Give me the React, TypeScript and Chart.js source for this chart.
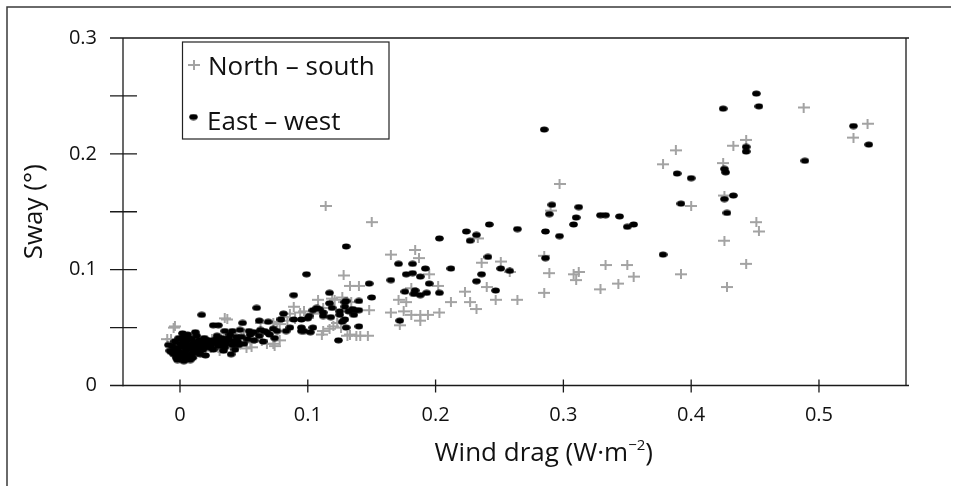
import React, { useEffect, useRef } from 'react';
import { Chart, registerables } from 'chart.js';

Chart.register(...registerables);

// ---------- data ----------
const seriesNames = ['North – south', 'East – west'];
const xTitle = 'Wind drag (W·m';
const xTitleSup = '−2';
const yTitle = 'Sway (°)';
const xTicks = [0, 0.1, 0.2, 0.3, 0.4, 0.5];
const yTicks = [0, 0.05, 0.1, 0.15, 0.2, 0.25, 0.3];
const xRange = [-0.0446, 0.5681];
const yRange = [0, 0.3];

// North – south (grey crosses): [wind drag, sway]
const nsPoints: [number, number][] = [
  [0.488, 0.240], [0.538, 0.226], [0.527, 0.214], [0.443, 0.212], [0.433, 0.207], [0.425, 0.192],
  [0.426, 0.164], [0.451, 0.141], [0.453, 0.133], [0.426, 0.125], [0.443, 0.105], [0.428, 0.085],
  [0.388, 0.203], [0.378, 0.191], [0.297, 0.174], [0.400, 0.155], [0.290, 0.151], [0.285, 0.112],
  [0.289, 0.097], [0.308, 0.096], [0.312, 0.098], [0.310, 0.091], [0.333, 0.104], [0.350, 0.104],
  [0.355, 0.094], [0.343, 0.088], [0.329, 0.083], [0.285, 0.080], [0.392, 0.096],
  [0.114, 0.155], [0.150, 0.141], [0.165, 0.113], [0.184, 0.117], [0.187, 0.110], [0.233, 0.127],
  [0.236, 0.106], [0.251, 0.107], [0.258, 0.098], [0.195, 0.096], [0.128, 0.095], [0.202, 0.086],
  [0.133, 0.086], [0.140, 0.086], [0.240, 0.085], [0.223, 0.081], [0.181, 0.084], [0.171, 0.074],
  [0.177, 0.072], [0.212, 0.072], [0.227, 0.072], [0.247, 0.074], [0.264, 0.074], [0.232, 0.066],
  [0.165, 0.063], [0.175, 0.064], [0.181, 0.061], [0.188, 0.061], [0.194, 0.061], [0.203, 0.063],
  [0.188, 0.056], [0.172, 0.052], [0.148, 0.065], [0.131, 0.043], [0.141, 0.043], [0.147, 0.043],
  [0.108, 0.074], [0.119, 0.075], [0.128, 0.072], [0.134, 0.072], [0.121, 0.074], [0.127, 0.076],
  [0.089, 0.068], [0.097, 0.064], [0.035, 0.058], [-0.004, 0.051], [0.063, 0.054], [0.076, 0.055],
  [0.084, 0.056], [0.090, 0.057], [0.104, 0.062], [0.112, 0.067], [0.094, 0.063], [0.086, 0.062],
  [0.081, 0.059], [0.073, 0.054], [0.078, 0.053], [0.112, 0.047], [0.111, 0.044], [0.117, 0.049],
  [0.120, 0.051], [0.123, 0.054], [0.126, 0.050], [0.133, 0.044], [0.138, 0.043],
  [0.078, 0.039], [0.068, 0.036], [0.074, 0.034], [0.055, 0.037], [0.064, 0.038], [0.073, 0.036],
  [0.056, 0.033], [0.024, 0.032], [0.030, 0.032], [0.036, 0.032], [0.043, 0.032], [-0.007, 0.040],
  [-0.005, 0.050], [-0.010, 0.040], [0.037, 0.057], [0.031, 0.030], [0.052, 0.032], [0.013, 0.027],
  [0.000, 0.028], [0.008, 0.031], [0.015, 0.034], [0.020, 0.030], [0.005, 0.038], [0.012, 0.042],
  [-0.003, 0.035], [0.025, 0.040], [0.045, 0.036], [0.040, 0.040], [0.050, 0.043], [0.060, 0.041],
];

// East – west (black dots): [wind drag, sway]
const ewPoints: [number, number][] = [
  [0.451, 0.252], [0.453, 0.241], [0.425, 0.239], [0.527, 0.224], [0.539, 0.208], [0.443, 0.206],
  [0.443, 0.202], [0.489, 0.194], [0.426, 0.187], [0.427, 0.184], [0.433, 0.164], [0.426, 0.161],
  [0.428, 0.149], [0.285, 0.221], [0.389, 0.183], [0.400, 0.179], [0.291, 0.156], [0.289, 0.148],
  [0.312, 0.154], [0.310, 0.145], [0.308, 0.139], [0.329, 0.147], [0.333, 0.147], [0.344, 0.146],
  [0.350, 0.137], [0.355, 0.139], [0.392, 0.157], [0.286, 0.133], [0.297, 0.129], [0.286, 0.110],
  [0.378, 0.113],
  [0.242, 0.139], [0.264, 0.135], [0.224, 0.133], [0.232, 0.130], [0.227, 0.125], [0.203, 0.127],
  [0.130, 0.120], [0.241, 0.111], [0.171, 0.105], [0.182, 0.105], [0.192, 0.101], [0.212, 0.101],
  [0.177, 0.096], [0.182, 0.097], [0.188, 0.094], [0.236, 0.096], [0.251, 0.101], [0.258, 0.099],
  [0.165, 0.091], [0.195, 0.088], [0.232, 0.090], [0.148, 0.088], [0.247, 0.082], [0.176, 0.081],
  [0.184, 0.082], [0.183, 0.079], [0.188, 0.078], [0.193, 0.080], [0.203, 0.080], [0.150, 0.076],
  [0.172, 0.056], [0.140, 0.051], [0.129, 0.072], [0.140, 0.073], [0.129, 0.068], [0.132, 0.064],
  [0.137, 0.065], [0.140, 0.065], [0.129, 0.057], [0.130, 0.050],
  [0.099, 0.096], [0.089, 0.078], [0.117, 0.080], [0.081, 0.062], [0.104, 0.065], [0.109, 0.066],
  [0.119, 0.067], [0.117, 0.071], [0.130, 0.073], [0.101, 0.060], [0.112, 0.060], [0.118, 0.059],
  [0.125, 0.061], [0.136, 0.061], [0.107, 0.067], [0.112, 0.063], [0.125, 0.064], [0.135, 0.066],
  [0.079, 0.057], [0.089, 0.057], [0.095, 0.057], [0.100, 0.058], [0.069, 0.055], [0.073, 0.049],
  [0.076, 0.047], [0.068, 0.046], [0.074, 0.041], [0.086, 0.050], [0.095, 0.050], [0.095, 0.047],
  [0.104, 0.050], [0.102, 0.046], [0.127, 0.055], [0.124, 0.039],
  [0.060, 0.067], [0.017, 0.061], [0.049, 0.054], [0.062, 0.056], [0.026, 0.052], [0.030, 0.052],
  [0.035, 0.047], [0.041, 0.047], [0.047, 0.048], [0.054, 0.047], [0.063, 0.048], [0.066, 0.047],
  [0.070, 0.044], [0.083, 0.047], [0.097, 0.047],
  [-0.008, 0.030], [-0.006, 0.034], [-0.005, 0.027], [-0.004, 0.038], [-0.003, 0.024], [-0.002, 0.032],
  [0.000, 0.029], [0.000, 0.036], [0.001, 0.040], [0.001, 0.025], [0.002, 0.033], [0.003, 0.042],
  [0.004, 0.028], [0.005, 0.037], [0.005, 0.031], [0.006, 0.044], [0.007, 0.026], [0.008, 0.035],
  [0.009, 0.040], [0.010, 0.030], [0.011, 0.037], [0.012, 0.033], [0.013, 0.043], [0.014, 0.028],
  [0.015, 0.039], [0.016, 0.035], [0.018, 0.031], [0.019, 0.041], [0.020, 0.036], [0.022, 0.033],
  [0.023, 0.039], [0.025, 0.036], [0.026, 0.031], [0.028, 0.040], [0.030, 0.034], [0.032, 0.038],
  [0.034, 0.030], [0.036, 0.036], [0.038, 0.041], [0.041, 0.035], [0.043, 0.031], [0.045, 0.038],
  [0.048, 0.042], [0.050, 0.036], [0.053, 0.040], [0.055, 0.044], [0.058, 0.039], [0.040, 0.027],
  [0.020, 0.026], [0.010, 0.024], [-0.002, 0.022], [0.003, 0.021], [0.058, 0.046], [0.062, 0.043],
  [0.065, 0.038],
  [-0.009, 0.035], [-0.007, 0.029], [-0.004, 0.031], [-0.001, 0.027], [0.002, 0.036], [0.004, 0.039],
  [0.006, 0.033], [0.007, 0.041], [0.009, 0.027], [0.011, 0.031], [0.013, 0.036], [0.015, 0.032],
  [0.017, 0.038], [0.019, 0.034], [0.021, 0.039], [0.024, 0.033], [0.027, 0.037], [0.029, 0.043],
  [0.031, 0.035], [0.033, 0.041], [0.035, 0.033], [0.037, 0.039], [0.039, 0.044], [0.042, 0.038],
  [0.044, 0.042], [0.046, 0.035], [0.004, 0.024], [0.008, 0.022], [0.016, 0.027], [0.012, 0.046],
  [0.002, 0.045], [-0.001, 0.041],
];

// ---------- styles ----------
const FONT = '"Open Sans", "Noto Sans", "DejaVu Sans", sans-serif';
const TEXT = '#111';
const GREY = '#a3a3a3';

function makeCross(): HTMLCanvasElement {
  const c = document.createElement('canvas');
  c.width = 12; c.height = 10;
  const g = c.getContext('2d')!;
  g.fillStyle = GREY;
  g.fillRect(0, 4, 12, 2);
  g.fillRect(5, 0, 2, 10);
  return c;
}
function makeDot(): HTMLCanvasElement {
  const c = document.createElement('canvas');
  c.width = 9; c.height = 7;
  const g = c.getContext('2d')!;
  g.fillStyle = '#000';
  g.beginPath();
  g.ellipse(4.5, 3.5, 4.3, 3.0, 0, 0, Math.PI * 2);
  g.fill();
  return c;
}

export default function App() {
  const ref = useRef<HTMLCanvasElement | null>(null);
  useEffect(() => {
    if (!ref.current) return;
    const cross = makeCross();
    const dot = makeDot();

    const decor = {
      id: 'decor',
      afterDraw(chart: any) {
        const { ctx, chartArea: a, scales } = chart;
        const x = scales.x, y = scales.y;
        ctx.save();
        // outer frame (top + left)
        ctx.strokeStyle = '#3a3a3a';
        ctx.lineWidth = 1.5;
        ctx.beginPath();
        ctx.moveTo(7, 486); ctx.lineTo(7, 7); ctx.lineTo(951, 7);
        ctx.stroke();
        // plot box + ticks
        ctx.strokeStyle = '#1a1a1a';
        ctx.lineWidth = 1.3;
        ctx.beginPath();
        ctx.moveTo(a.left, a.top); ctx.lineTo(a.right + 3, a.top);
        ctx.moveTo(a.right, a.top); ctx.lineTo(a.right, a.bottom);
        ctx.moveTo(a.left, a.top); ctx.lineTo(a.left, a.bottom + 1);
        ctx.moveTo(a.left, a.bottom); ctx.lineTo(a.right + 3, a.bottom);
        yTicks.forEach((v) => {
          const py = y.getPixelForValue(v);
          ctx.moveTo(a.left - 13, py); ctx.lineTo(a.left + 14, py);
        });
        xTicks.forEach((v) => {
          const px = x.getPixelForValue(v);
          ctx.moveTo(px, a.bottom - 6); ctx.lineTo(px, a.bottom + 7);
        });
        ctx.stroke();

        // legend
        const lx = 182.5, ly = 42, lw = 206.5, lh = 97;
        ctx.fillStyle = '#fff';
        ctx.fillRect(lx, ly, lw, lh);
        ctx.strokeStyle = '#222';
        ctx.lineWidth = 1.2;
        ctx.strokeRect(lx, ly, lw, lh);
        ctx.drawImage(cross, 194 - 6, 65 - 5);
        ctx.drawImage(dot, 193.5 - 4.5, 117 - 3.5);
        ctx.fillStyle = TEXT;
        ctx.font = `26px ${FONT}`;
        ctx.textAlign = 'left';
        ctx.textBaseline = 'alphabetic';
        ctx.fillText(seriesNames[0], 208, 75);
        ctx.fillText(seriesNames[1], 207, 130);

        // x-axis title with superscript
        const mainFont = `26px ${FONT}`;
        const supFont = `15px ${FONT}`;
        ctx.font = mainFont;
        const w1 = ctx.measureText(xTitle).width;
        const w3 = ctx.measureText(')').width;
        ctx.font = supFont;
        const w2 = ctx.measureText(xTitleSup).width;
        const right = 653;
        const start = right - (w1 + w2 + w3);
        const base = 461;
        ctx.font = mainFont;
        ctx.fillText(xTitle, start, base);
        ctx.font = supFont;
        ctx.fillText(xTitleSup, start + w1, base - 11);
        ctx.font = mainFont;
        ctx.fillText(')', start + w1 + w2, base);
        ctx.restore();
      },
    };

    const fmt = (v: number) => {
      const r = Math.round(v * 10) / 10;
      if (Math.abs(v - r) > 1e-9) return '';
      return r === 0 ? '0' : r.toFixed(1);
    };

    const chart = new Chart(ref.current, {
      type: 'scatter',
      data: {
        datasets: [
          {
            label: seriesNames[1],
            data: ewPoints.map(([px, py]) => ({ x: px, y: py })),
            pointStyle: dot as any,
            pointRadius: 4,
            backgroundColor: '#000',
            borderColor: '#000',
          },
          {
            label: seriesNames[0],
            data: nsPoints.map(([px, py]) => ({ x: px, y: py })),
            pointStyle: cross as any,
            pointRadius: 5,
            backgroundColor: GREY,
            borderColor: GREY,
          },
        ],
      },
      options: {
        responsive: false,
        animation: false,
        devicePixelRatio: 1,
        layout: { padding: { left: 0, top: 33, right: 48, bottom: 0 } },
        plugins: { legend: { display: false }, tooltip: { enabled: false } },
        events: [],
        scales: {
          x: {
            type: 'linear',
            min: xRange[0],
            max: xRange[1],
            afterBuildTicks: (s: any) => { s.ticks = xTicks.map((v) => ({ value: v })); },
            afterFit: (s: any) => { s.height = 100.5; },
            grid: { display: false, drawTicks: false },
            border: { display: false },
            ticks: {
              callback: (v: any) => fmt(Number(v)),
              font: { family: FONT, size: 20 },
              color: TEXT,
              padding: 18,
              maxRotation: 0,
              autoSkip: false,
            },
          },
          y: {
            type: 'linear',
            min: yRange[0],
            max: yRange[1],
            afterBuildTicks: (s: any) => { s.ticks = yTicks.map((v) => ({ value: v })); },
            afterFit: (s: any) => { s.width = 123; },
            grid: { display: false, drawTicks: false },
            border: { display: false },
            title: {
              display: true,
              text: yTitle,
              font: { family: FONT, size: 26 },
              color: TEXT,
              padding: { top: 19, bottom: 0 },
            },
            ticks: {
              callback: (v: any) => fmt(Number(v)),
              font: { family: FONT, size: 20 },
              color: TEXT,
              padding: 26,
              autoSkip: false,
            },
          },
        },
      },
      plugins: [decor],
    } as any);
    return () => chart.destroy();
  }, []);

  return (
    <div style={{ position: 'absolute', left: 0, top: 0, width: 954, height: 486, background: '#fff' }}>
      <canvas ref={ref} width={954} height={486} style={{ display: 'block' }} />
    </div>
  );
}
